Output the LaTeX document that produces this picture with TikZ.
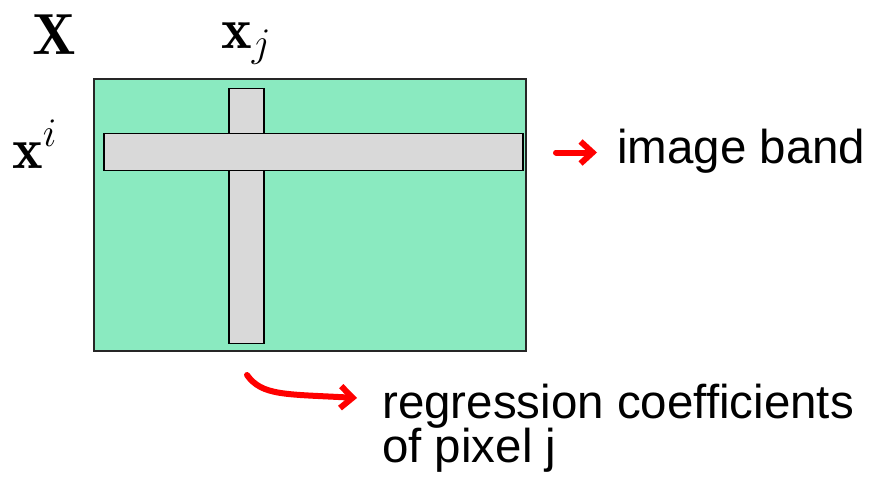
\RequirePackage{fix-cm}
\documentclass[tikz,border=0pt]{standalone}
\usepackage{fontspec}
\setsansfont{Liberation Sans}
\usetikzlibrary{arrows.meta}
\definecolor{bandgreen}{HTML}{8AEAC0}
\definecolor{bargrey}{HTML}{D9D9D9}
\tikzset{
  panel/.style={draw=black!85, line width=1.6pt, fill=bandgreen, inner sep=0pt, anchor=north west},
  bar/.style={draw=black, line width=1.8pt, fill=bargrey, inner sep=0pt, anchor=north west},
  mathlbl/.style={inner sep=0pt, anchor=base west, font=\fontsize{58}{60}\selectfont},
  txtlbl/.style={inner sep=0pt, anchor=base west, font=\sffamily\fontsize{47.5}{50}\selectfont},
  redarrow/.style={draw=red, line width=6pt, -{Straight Barb[length=12pt,width=22pt]}},
}
\begin{document}
\begin{tikzpicture}[x=1pt,y=-1pt]
\useasboundingbox (0,0) rectangle (871,482);
\node[panel, minimum width=432pt, minimum height=272pt] (panel) at (93,78) {};
\node[bar, minimum width=35pt, minimum height=255pt] (col) at (228,87.5) {};
\node[bar, minimum width=419pt, minimum height=37pt] (row) at (103,132.5) {};
\node[mathlbl] (X) at (32,54) {$\mathbf{X}$};
\node[mathlbl] (xj) at (221,48) {$\mathbf{x}_j$};
\node[mathlbl] (xi) at (12,168) {$\mathbf{x}^i$};
\node[txtlbl] (band) at (617,163) {image band};
\node[txtlbl] (coef) at (382,418) {regression coefficients};
\node[txtlbl] (pix) at (382,462) {of pixel j};
\coordinate (a1s) at (556,152.5);
\coordinate (a1e) at (597,152.5);
\coordinate (a2s) at (247,375);
\coordinate (a2e) at (357,398);
\draw[redarrow, line cap=round] (a1s) -- (a1e);
\draw[redarrow, line cap=round] (a2s) .. controls (262,396) and (285,394) .. (a2e);
\end{tikzpicture}
\end{document}
